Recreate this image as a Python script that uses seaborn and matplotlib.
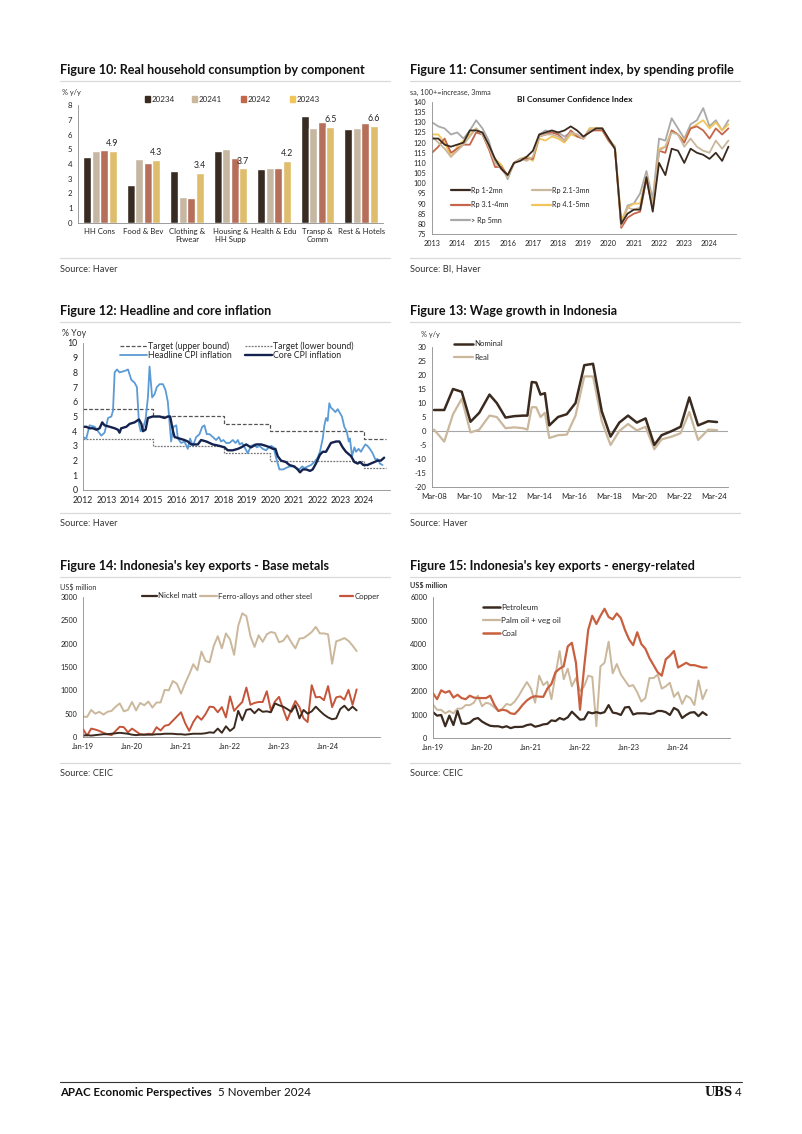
import numpy as np
import pandas as pd
import matplotlib
matplotlib.use("Agg")
import matplotlib.pyplot as plt
from matplotlib.patches import Patch
import seaborn as sns

W, H = 802, 1134

# ---------------- Figure 10: household consumption ----------------
components = ["HH Cons", "Food & Bev", "Clothing &\nFtwear", "Housing &\nHH Supp",
              "Health & Edu", "Transp &\nComm", "Rest & Hotels"]
quarters = ["20234", "20241", "20242", "20243"]
q20234 = [4.5, 2.6, 3.5, 4.85, 3.65, 7.25, 6.35]
q20241 = [4.9, 4.35, 1.75, 5.0, 3.7, 6.45, 6.45]
q20242 = [4.95, 4.1, 1.7, 4.4, 3.75, 6.85, 6.8]
q20243 = [4.9, 4.3, 3.4, 3.7, 4.2, 6.5, 6.6]

# ---------------- Figure 11: consumer confidence (quarterly) ----------------
cci_dates = pd.date_range("2013-01-01", "2024-10-01", freq="QS")
cci_1_2 = [122, 122, 119, 118, 119, 120, 126, 126, 125, 119, 112, 107,
           104, 110, 111, 113, 116, 124, 125, 126, 125, 126, 128, 126,
           123, 125, 127, 127, 122, 117, 80, 85, 87, 87, 103, 86,
           110, 104, 117, 116, 110, 117, 115, 114, 112, 115, 111, 118]
cci_2_3 = [123, 120, 117, 113, 116, 119, 123, 127, 124, 118, 110, 107,
           103, 110, 112, 111, 113, 123, 124, 124, 123, 121, 125, 124,
           122, 126, 127, 127, 122, 118, 79, 88, 87, 88, 104, 88,
           116, 118, 125, 124, 118, 122, 118, 116, 115, 121, 117, 121]
cci_3_4 = [115, 118, 122, 115, 117, 119, 119, 125, 124, 117, 108, 108,
           104, 110, 112, 112, 112, 123, 124, 125, 124, 121, 126, 123,
           122, 126, 126, 126, 121, 117, 78, 83, 85, 86, 102, 87,
           116, 115, 126, 124, 120, 127, 128, 126, 122, 127, 124, 127]
cci_4_5 = [124, 124, 120, 113, 118, 121, 124, 127, 124, 117, 112, 109,
           103, 110, 112, 113, 111, 122, 121, 123, 122, 120, 124, 123,
           122, 127, 127, 127, 121, 118, 82, 88, 90, 90, 104, 89,
           117, 118, 126, 124, 121, 127, 129, 131, 127, 130, 126, 129]
cci_5p = [130, 128, 127, 124, 125, 122, 126, 131, 127, 121, 110, 109,
          102, 110, 112, 113, 112, 124, 126, 125, 125, 123, 125, 124,
          122, 127, 127, 127, 121, 118, 80, 89, 90, 95, 106, 92,
          122, 121, 132, 127, 122, 129, 131, 137, 128, 131, 126, 131]

# ---------------- Figure 12: inflation ----------------
target_year = [2012, 2015, 2018, 2020, 2024, 2024.95]
target_upper = [5.5, 5.0, 4.5, 4.0, 3.5, 3.5]
target_lower = [3.5, 3.0, 2.5, 2.0, 1.5, 1.5]
headline_year = [2012.00, 2012.14, 2012.28, 2012.50, 2012.64, 2012.78, 2012.92, 2013.07, 2013.21, 2013.28,
                 2013.35, 2013.45, 2013.56, 2013.78, 2013.92, 2014.06, 2014.20, 2014.30, 2014.39, 2014.46,
                 2014.56, 2014.67, 2014.77, 2014.84, 2014.95, 2015.05, 2015.15, 2015.27, 2015.41, 2015.52,
                 2015.62, 2015.76, 2015.86, 2015.98, 2016.05, 2016.19, 2016.33, 2016.47, 2016.57, 2016.69,
                 2016.83, 2016.97, 2017.09, 2017.18, 2017.28, 2017.40, 2017.54, 2017.68, 2017.80, 2017.89,
                 2017.99, 2018.11, 2018.25, 2018.39, 2018.51, 2018.61, 2018.68, 2018.79, 2018.93, 2019.03,
                 2019.17, 2019.32, 2019.41, 2019.53, 2019.67, 2019.81, 2019.93, 2020.03, 2020.13, 2020.24,
                 2020.38, 2020.55, 2020.66, 2020.81, 2020.95, 2021.09, 2021.23, 2021.35, 2021.45, 2021.59,
                 2021.73, 2021.87, 2022.01, 2022.11, 2022.23, 2022.30, 2022.37, 2022.44, 2022.51, 2022.58,
                 2022.65, 2022.77, 2022.87, 2022.94, 2023.05, 2023.15, 2023.25, 2023.34, 2023.39, 2023.48,
                 2023.58, 2023.65, 2023.76, 2023.86, 2023.93, 2024.05, 2024.14, 2024.24, 2024.36, 2024.47,
                 2024.57, 2024.67, 2024.78]
headline_cpi = [3.6, 3.5, 4.4, 4.3, 4.0, 3.7, 3.9, 4.9, 5.0, 5.4,
                8.0, 8.2, 8.0, 8.1, 8.2, 7.5, 7.3, 7.0, 4.5, 4.0,
                4.2, 4.8, 6.3, 8.4, 6.3, 6.5, 7.0, 7.2, 7.2, 6.8,
                6.0, 3.3, 4.3, 4.4, 3.5, 3.2, 3.3, 2.8, 3.5, 3.0,
                3.6, 3.8, 4.3, 4.4, 3.8, 3.8, 3.6, 3.4, 3.6, 3.3,
                3.4, 3.2, 3.2, 3.4, 3.2, 3.4, 3.1, 3.2, 2.8, 2.5,
                3.0, 3.1, 2.9, 3.0, 2.8, 2.7, 2.9, 3.0, 2.9, 2.2,
                1.4, 1.4, 1.5, 1.6, 1.6, 1.5, 1.4, 1.6, 1.5, 1.6,
                1.7, 1.9, 2.2, 2.6, 3.5, 4.4, 4.9, 4.7, 5.9, 5.6,
                5.5, 5.3, 5.5, 5.3, 5.0, 4.3, 4.0, 3.3, 3.5, 2.3,
                2.9, 2.6, 2.8, 2.6, 2.8, 3.1, 3.0, 2.8, 2.5, 2.1,
                2.1, 1.8, 1.7]
core_year = [2012.00, 2012.14, 2012.28, 2012.43, 2012.57, 2012.71, 2012.82, 2012.92, 2013.14, 2013.35,
             2013.49, 2013.56, 2013.63, 2013.85, 2013.99, 2014.20, 2014.39, 2014.49, 2014.56, 2014.67,
             2014.77, 2014.98, 2015.27, 2015.48, 2015.62, 2015.72, 2015.84, 2015.91, 2016.12, 2016.33,
             2016.47, 2016.62, 2016.76, 2016.90, 2017.04, 2017.26, 2017.54, 2017.82, 2018.04, 2018.18,
             2018.39, 2018.61, 2018.75, 2018.96, 2019.17, 2019.39, 2019.60, 2019.81, 2019.98, 2020.10,
             2020.21, 2020.31, 2020.45, 2020.66, 2020.81, 2021.02, 2021.16, 2021.26, 2021.38, 2021.52,
             2021.69, 2021.80, 2021.94, 2022.11, 2022.23, 2022.37, 2022.58, 2022.80, 2022.94, 2023.08,
             2023.22, 2023.44, 2023.58, 2023.72, 2023.83, 2023.96, 2024.14, 2024.28, 2024.43, 2024.57,
             2024.71, 2024.85]
core_cpi = [4.3, 4.3, 4.2, 4.2, 4.1, 4.2, 4.6, 4.4, 4.3, 4.2,
            4.1, 3.9, 4.2, 4.3, 4.5, 4.6, 4.8, 4.5, 4.0, 4.1,
            4.9, 5.0, 5.0, 4.9, 5.0, 5.0, 4.0, 3.6, 3.5, 3.4,
            3.3, 3.1, 3.1, 3.1, 3.4, 3.3, 3.1, 3.0, 2.9, 2.7,
            2.7, 2.8, 2.9, 3.1, 2.9, 3.1, 3.1, 3.0, 2.9, 2.8,
            2.8, 2.3, 2.0, 1.9, 1.7, 1.6, 1.4, 1.2, 1.4, 1.4,
            1.3, 1.4, 1.8, 2.4, 2.6, 2.6, 3.2, 3.3, 3.3, 2.9,
            2.6, 2.3, 1.9, 1.8, 1.9, 1.7, 1.7, 1.8, 1.9, 2.0,
            2.0, 2.2]

# ---------------- Figure 13: wages ----------------
wage_dates = ["2008-03", "2008-10", "2009-04", "2009-10", "2010-04", "2010-10", "2011-05", "2011-10",
              "2012-04", "2012-10", "2013-04", "2013-07", "2013-10", "2014-01", "2014-04", "2014-07",
              "2014-10", "2015-04", "2015-10", "2016-04", "2016-10", "2017-04", "2017-10", "2018-04",
              "2018-10", "2019-04", "2019-10", "2020-04", "2020-10", "2021-03", "2021-10", "2022-04",
              "2022-10", "2023-04", "2023-11", "2024-05"]
wage_nominal = [7.5, 7.5, 15.0, 14.0, 3.3, 6.5, 13.0, 10.0, 4.8, 5.3, 5.5, 5.5, 17.5, 17.3, 13.0, 13.5,
                2.0, 5.0, 6.0, 10.0, 23.5, 24.0, 7.0, -2.0, 3.0, 5.5, 3.0, 4.5, -5.0, -1.5, 0.0, 1.5,
                12.0, 2.0, 3.5, 3.2]
wage_real = [0.5, -3.8, 6.0, 11.5, -0.5, 0.5, 5.5, 5.0, 1.0, 1.3, 1.0, 0.5, 8.5, 8.5, 5.0, 6.5,
             -2.5, -1.5, -1.3, 5.5, 19.5, 19.5, 3.5, -5.0, 0.0, 2.5, 0.2, 1.5, -6.5, -3.0, -2.0, -0.8,
             6.8, -3.2, 0.5, 0.3]

# ---------------- Figures 14/15: exports (monthly, Jan-19 .. Aug-24) ----------------
export_months = pd.date_range("2019-01-01", periods=68, freq="MS")
nickel_matt = [30, 40, 30, 40, 50, 60, 60, 70, 80, 90, 80, 70,
               50, 40, 50, 50, 50, 50, 60, 60, 70, 70, 70, 60,
               60, 50, 60, 70, 70, 70, 80, 100, 90, 180, 90, 230,
               130, 200, 560, 360, 580, 600, 510, 600, 540, 550, 530, 720,
               680, 650, 600, 540, 680, 400, 580, 500, 550, 650, 560, 480,
               420, 380, 400, 600, 670, 570, 650, 570]
ferro_alloys = [440, 430, 580, 500, 540, 480, 540, 560, 650, 720, 550, 580,
                750, 570, 730, 680, 760, 630, 740, 740, 1010, 1000, 1200, 1140,
                930, 1150, 1340, 1560, 1430, 1830, 1630, 1600, 1950, 2160, 1900, 2220,
                2090, 1760, 2380, 2650, 2590, 2160, 1930, 2180, 2040, 2200, 2250, 2230,
                2030, 2060, 2180, 2030, 1900, 2110, 2120, 2180, 2250, 2360, 2220, 2220,
                2200, 1570, 2050, 2080, 2120, 2060, 1960, 1840]
copper = [170, 30, 180, 160, 130, 90, 60, 40, 130, 220, 210, 100,
          180, 120, 60, 50, 70, 60, 210, 140, 240, 260, 350, 440,
          530, 300, 130, 320, 450, 370, 490, 650, 640, 530, 640, 420,
          870, 560, 660, 750, 1060, 690, 730, 750, 750, 980, 570, 760,
          860, 600, 360, 580, 770, 640, 400, 320, 1110, 850, 860, 790,
          1090, 640, 850, 870, 800, 1010, 690, 1020]
petroleum = [1100, 950, 980, 500, 950, 550, 1150, 620, 600, 650, 800, 850,
             700, 600, 520, 500, 500, 450, 500, 420, 470, 470, 480, 550,
             580, 480, 520, 580, 600, 750, 720, 850, 780, 880, 1120, 950,
             780, 800, 1100, 1050, 1100, 1050, 1100, 1400, 1080, 1050, 980, 1300,
             1320, 1000, 1050, 1050, 1050, 1020, 1050, 1150, 1150, 1100, 980, 1280,
             1180, 850, 980, 1080, 1100, 930, 1100, 980]
palm_oil = [1420, 1200, 1200, 1050, 1150, 1050, 1250, 1250, 1400, 1400, 1500, 1800,
            1350, 1500, 1450, 1300, 1150, 1250, 1450, 1400, 1550, 1800, 2100, 2380,
            2100, 1500, 2650, 2250, 2400, 1650, 2700, 3700, 2500, 2950, 2200, 2550,
            2000, 2200, 2650, 2600, 500, 3050, 3200, 4100, 2750, 3150, 2700, 2450,
            2200, 2250, 1950, 1550, 1700, 2550, 2550, 2700, 2100, 2200, 2350, 1750,
            1950, 1450, 1800, 1700, 1400, 2450, 1650, 2050]
coal = [1900, 1650, 2030, 1930, 2000, 1720, 1840, 1700, 1650, 1800, 1720, 1700,
        1700, 1700, 1800, 1420, 1150, 1200, 1170, 1050, 1020, 1200, 1420, 1600,
        1720, 1780, 1760, 1750, 2100, 2300, 2800, 2950, 3050, 3900, 4050, 3200,
        1200, 3000, 4600, 5200, 4850, 5200, 5500, 5150, 5050, 5300, 5100, 4600,
        4200, 3950, 4500, 4000, 3800, 3400, 3100, 2800, 2650, 3350, 3500, 3700,
        3000, 3100, 3200, 3100, 3100, 3050, 3000, 3000]

# colours
BROWN = "#3a2a1f"
TAN = "#cbb89c"
TERRA = "#c5664b"
YELLOW = "#f1c55a"
GREY = "#a9a9a9"
BLUE = "#5b9bd5"
NAVY = "#13224f"
AXC = "#8c8c8c"

sns.set_theme(style="white")
plt.rcParams["font.family"] = ["Lato", "DejaVu Sans"]
plt.rcParams["axes.linewidth"] = 0.6
plt.rcParams["axes.unicode_minus"] = False

fig = plt.figure(figsize=(W / 100, H / 100), dpi=100)


def add_ax(left, top, right, bottom):
    return fig.add_axes([left / W, 1 - bottom / H, (right - left) / W, (bottom - top) / H])


def ftext(x, y, s, **kw):
    kw.setdefault("va", "center")
    fig.text(x / W, 1 - y / H, s, **kw)


def hline(x0, x1, y, color="#d9d9d9", lw=0.9):
    fig.add_artist(plt.Line2D([x0 / W, x1 / W], [1 - y / H, 1 - y / H], color=color, lw=lw))


def style_ax(ax, fs=6):
    sns.despine(ax=ax)
    for s in ("left", "bottom"):
        ax.spines[s].set_color(AXC)
        ax.spines[s].set_linewidth(0.6)
    ax.tick_params(axis="both", labelsize=fs, colors=AXC, labelcolor="#222222",
                   length=2.5, width=0.6, pad=1.5, direction="out")
    ax.set_xlabel("")
    ax.set_ylabel("")
    ax.grid(False)
    if ax.get_legend() is not None:
        ax.get_legend().remove()


def panel(x0, title, ty, uy, sy, source):
    ftext(x0, ty, title, fontsize=9.1, fontweight="bold", color="#111111")
    hline(x0, x0 + 330, uy)
    hline(x0, x0 + 330, sy)
    ftext(x0, sy + 11, source, fontsize=6.7, color="#333333")


def legend_item(ax, handle, label, x, y, fs, length_px, **kw):
    # one legend entry, handle starting at pixel (x, y)
    fpx = fs * 100 / 72
    leg = ax.legend([handle], [label], loc="center left", bbox_to_anchor=(x / W, 1 - y / H),
                    bbox_transform=fig.transFigure, frameon=False, fontsize=fs,
                    handlelength=length_px / fpx, handletextpad=0.15, borderpad=0,
                    borderaxespad=0, **kw)
    ax.legend_ = None
    ax.add_artist(leg)


def dec_year(dates):
    d = pd.DatetimeIndex(dates)
    return d.year + (d.month - 1) / 12


# ---------- panel titles / sources ----------
panel(60, "Figure 10: Real household consumption by component", 70, 81, 258, "Source: Haver")
panel(410, "Figure 11: Consumer sentiment index, by spending profile", 70, 81, 258, "Source: BI, Haver")
panel(60, "Figure 12: Headline and core inflation", 311, 322, 513, "Source: Haver")
panel(410, "Figure 13: Wage growth in Indonesia", 311, 322, 513, "Source: Haver")
panel(60, "Figure 14: Indonesia's key exports - Base metals", 566, 577, 763, "Source: CEIC")
panel(410, "Figure 15: Indonesia's key exports - energy-related", 566, 577, 763, "Source: CEIC")

# ---------- Figure 10 ----------
ax = add_ax(78, 105, 383, 223)
df10 = pd.DataFrame({"component": components * 4,
                     "quarter": np.repeat(quarters, len(components)),
                     "value": q20234 + q20241 + q20242 + q20243})
bar_cols = [BROWN, TAN, TERRA, YELLOW]
sns.barplot(data=df10, x="component", y="value", hue="quarter",
            palette=bar_cols, width=0.78, gap=0.06, ax=ax)
style_ax(ax, 5.6)
ax.set_ylim(0, 8)
ax.set_yticks(range(0, 9))
ax.set_xlim(-0.5, len(components) - 0.5)
ax.tick_params(axis="x", length=0, pad=3.5)
ax.bar_label(ax.containers[3], fmt="%.1f", fontsize=6.3, padding=2, color="#222222")
for q, c, x in zip(quarters, bar_cols, [145, 192, 241, 290]):
    legend_item(ax, Patch(color=c), q, x, 99, 5.8, 5, handleheight=0.7)
ftext(62, 92, "% y/y", fontsize=5.3, color="#333333")

# ---------- Figure 11 ----------
ax = add_ax(432, 102, 736, 234)
xq = dec_year(cci_dates)
series11 = [("Rp 1-2mn", cci_1_2, BROWN, 451, 190), ("Rp 2.1-3mn", cci_2_3, TAN, 532, 190),
            ("Rp 3.1-4mn", cci_3_4, TERRA, 451, 205), ("Rp 4.1-5mn", cci_4_5, YELLOW, 532, 205),
            ("> Rp 5mn", cci_5p, GREY, 451, 220)]
for name, vals, c, lx, ly in reversed(series11):
    sns.lineplot(x=xq, y=vals, color=c, linewidth=1.3, ax=ax, legend=False)
style_ax(ax, 5.2)
for name, vals, c, lx, ly in series11:
    legend_item(ax, plt.Line2D([], [], color=c, lw=1.6), name, lx, ly, 5.2, 19)
ax.set_ylim(75, 140)
ax.set_yticks(range(75, 141, 5))
ax.set_xlim(2013, 2025.05)
ax.set_xticks(range(2013, 2025))
ftext(575, 100, "BI Consumer Confidence Index", fontsize=6, fontweight="bold",
      ha="center", color="#111111")
ftext(410, 92, "sa, 100+=increase, 3mma", fontsize=5.2, color="#333333")

# ---------- Figure 12 ----------
ax = add_ax(83, 343, 390, 490)
up_style = dict(color="#555555", linewidth=0.9, linestyle=(0, (3, 1.5)))
lo_style = dict(color="#777777", linewidth=0.9, linestyle=(0, (1.5, 1)))
sns.lineplot(x=target_year, y=target_upper, drawstyle="steps-post", ax=ax, **up_style)
sns.lineplot(x=target_year, y=target_lower, drawstyle="steps-post", ax=ax, **lo_style)
sns.lineplot(x=headline_year, y=headline_cpi, color=BLUE, linewidth=1.3, ax=ax)
sns.lineplot(x=core_year, y=core_cpi, color=NAVY, linewidth=1.7, ax=ax)
style_ax(ax, 6.3)
legend_item(ax, plt.Line2D([], [], **up_style), "Target (upper bound)", 120, 346, 6.3, 27)
legend_item(ax, plt.Line2D([], [], **lo_style), "Target (lower bound)", 245, 346, 6.3, 27)
legend_item(ax, plt.Line2D([], [], color=BLUE, lw=1.3), "Headline CPI inflation", 120, 356, 6.3, 27)
legend_item(ax, plt.Line2D([], [], color=NAVY, lw=1.7), "Core CPI inflation", 245, 356, 6.3, 27)
ax.set_ylim(0, 10)
ax.set_yticks(range(0, 11))
ax.set_xlim(2012, 2025.1)
ax.set_xticks(range(2012, 2025))
ftext(62, 334, "% Yoy", fontsize=6.3, color="#333333")

# ---------- Figure 13 ----------
ax = add_ax(432, 347, 728, 487)
xw = dec_year(wage_dates)
ax.axhline(0, color="#a6a6a6", linewidth=0.8)
sns.lineplot(x=xw, y=wage_real, color=TAN, linewidth=1.6, ax=ax)
sns.lineplot(x=xw, y=wage_nominal, color=BROWN, linewidth=1.8, ax=ax)
style_ax(ax, 5.6)
legend_item(ax, plt.Line2D([], [], color=BROWN, lw=1.8), "Nominal", 454, 344, 5.6, 19)
legend_item(ax, plt.Line2D([], [], color=TAN, lw=1.6), "Real", 454, 357, 5.6, 19)
ax.set_ylim(-20, 30)
ax.set_yticks(range(-20, 31, 5))
ax.set_xlim(2008.05, 2024.96)
wticks = dec_year(["2008-03", "2010-03", "2012-03", "2014-03", "2016-03", "2018-03",
                   "2020-03", "2022-03", "2024-03"])
ax.set_xticks(wticks)
ax.set_xticklabels(["Mar-08", "Mar-10", "Mar-12", "Mar-14", "Mar-16", "Mar-18",
                    "Mar-20", "Mar-22", "Mar-24"])
ftext(421, 335, "% y/y", fontsize=5.3, color="#333333")

# ---------- Figure 14 ----------
ax = add_ax(83, 597, 380, 737)
xm = dec_year(export_months)
sns.lineplot(x=xm, y=ferro_alloys, color=TAN, linewidth=1.4, ax=ax)
sns.lineplot(x=xm, y=copper, color="#c5553a", linewidth=1.4, ax=ax)
sns.lineplot(x=xm, y=nickel_matt, color=BROWN, linewidth=1.4, ax=ax)
style_ax(ax, 5.3)
legend_item(ax, plt.Line2D([], [], color=BROWN, lw=1.6), "Nickel matt", 142, 596, 5.6, 15)
legend_item(ax, plt.Line2D([], [], color=TAN, lw=1.6), "Ferro-alloys and other steel", 200, 596, 5.6, 17)
legend_item(ax, plt.Line2D([], [], color="#c5553a", lw=1.6), "Copper", 340, 596, 5.6, 13)
ax.set_ylim(0, 3000)
ax.set_yticks(range(0, 3001, 500))
ax.set_xlim(2019, 2025.06)
ax.set_xticks(range(2019, 2025))
ax.set_xticklabels(["Jan-19", "Jan-20", "Jan-21", "Jan-22", "Jan-23", "Jan-24"])
ftext(60, 587, "US$ million", fontsize=5.2, color="#333333")

# ---------- Figure 15 ----------
ax = add_ax(433, 597, 730, 738)
sns.lineplot(x=xm, y=palm_oil, color=TAN, linewidth=1.4, ax=ax)
sns.lineplot(x=xm, y=coal, color="#c8603f", linewidth=1.6, ax=ax)
sns.lineplot(x=xm, y=petroleum, color=BROWN, linewidth=1.6, ax=ax)
style_ax(ax, 5.3)
legend_item(ax, plt.Line2D([], [], color=BROWN, lw=1.8), "Petroleum", 483, 607, 5.8, 17)
legend_item(ax, plt.Line2D([], [], color=TAN, lw=1.6), "Palm oil + veg oil", 483, 620, 5.8, 17)
legend_item(ax, plt.Line2D([], [], color="#c8603f", lw=1.8), "Coal", 483, 633, 5.8, 17)
ax.set_ylim(0, 6000)
ax.set_yticks(range(0, 6001, 1000))
ax.set_xlim(2019, 2025.06)
ax.set_xticks(range(2019, 2025))
ax.set_xticklabels(["Jan-19", "Jan-20", "Jan-21", "Jan-22", "Jan-23", "Jan-24"])
ftext(410, 586, "US$ million", fontsize=5.2, fontweight="bold", color="#333333")

# ---------- page footer ----------
hline(60, 742, 1082, color="#333333", lw=0.8)
ftext(60, 1093, "APAC Economic Perspectives", fontsize=8.3, fontweight="bold", color="#111111")
ftext(218, 1093, "5 November 2024", fontsize=8.3, color="#111111")
ftext(733, 1093, "UBS", fontsize=8.3, fontweight="bold", family="DejaVu Serif", ha="right",
      color="#111111")
ftext(742, 1093, "4", fontsize=8.3, ha="right", color="#111111")

fig.savefig("out.png", dpi=100, facecolor="white")
